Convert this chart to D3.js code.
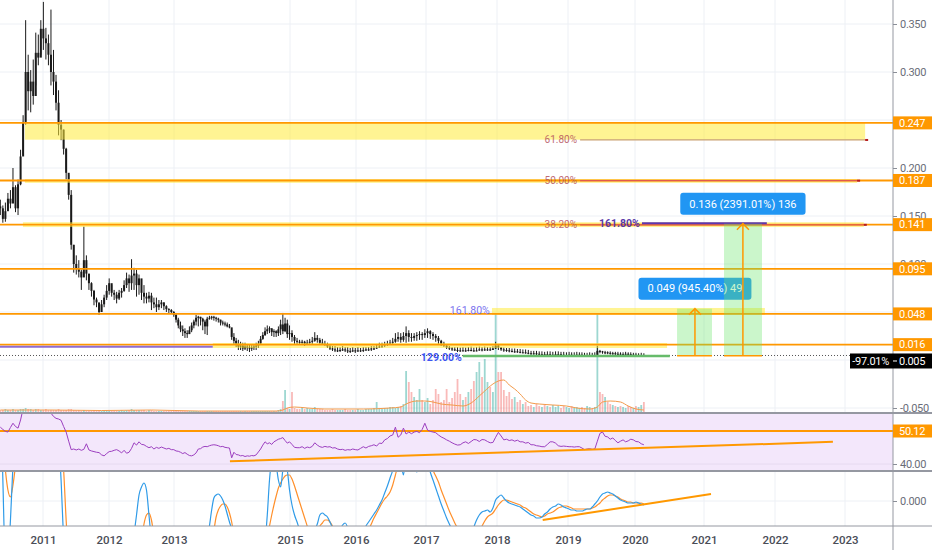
<!DOCTYPE html>
<html>
<head>
<meta charset="utf-8">
<script src="https://cdn.jsdelivr.net/npm/d3@7/dist/d3.min.js"></script>
<style>
  body { margin: 0; background: #fff; }
  svg { display: block; }
  text { font-family: Roboto, "Open Sans", sans-serif; }
</style>
</head>
<body>
<script>
// ---------------- data ----------------
// two-week bars starting from barStart
const barStart = "2010-05-10";
const barDays = 14;

const priceHigh = [
  .167,.161,.164,.174,.177,.200,.182,.188,.219,.255,
  .354,.318,.302,.313,.341,.339,.354,.373,.346,.339,
  .365,.323,.297,.281,.250,.240,.221,.193,.177,.120,
  .109,.104,.094,.139,.109,.089,.081,.073,.065,.059,
  .0625,.068,.078,.085,.078,.073,.071,.073,.075,.083,
  .091,.089,.105,.096,.094,.089,.083,.078,.070,.071,
  .070,.065,.065,.0625,.0625,.060,.057,.054,.053,.051,
  .049,.044,.040,.036,.033,.031,.035,.039,.042,.047,
  .046,.045,.044,.042,.045,.046,.046,.046,.045,.044,
  .042,.041,.040,.039,.0375,.031,.028,.023,.021,.019,
  .018,.018,.0167,.0156,.0156,.0167,.018,.020,.025,.029,
  .034,.036,.035,.033,.032,.031,.035,.042,.049,.044,
  .042,.036,.031,.026,.023,.021,.021,.020,.021,.022,
  .024,.029,.026,.023,.022,.020,.018,.0156,.0146,.0146,
  .0135,.0135,.0146,.0135,.0135,.0125,.0135,.0125,.0135,.0125,
  .0135,.0135,.0135,.0146,.0146,.0167,.018,.018,.019,.020,
  .021,.023,.028,.029,.028,.029,.035,.031,.028,.028,
  .029,.030,.029,.032,.033,.031,.029,.027,.025,.021,
  .019,.0167,.0146,.0135,.0135,.0135,.013,.0135,.013,.0135,
  .014,.013,.0135,.014,.0135,.014,.0135,.0135,.0145,.019,
  .0167,.0135,.013,.0125,.0125,.012,.012,.0115,.0115,.011,
  .011,.0105,.0095,.0095,.0095,.009,.009,.0085,.009,.009,
  .0085,.009,.009,.0085,.0085,.008,.0085,.008,.008,.0085,
  .008,.008,.0075,.0075,.008,.0075,.008,.0146,.0105,.0095,
  .0095,.009,.009,.0085,.0085,.0085,.008,.008,.0085,.008,
  .008,.0075,.0075,.007,.0075,.007
];
const priceLow = [
  .151,.143,.144,.156,.158,.172,.154,.151,.182,.214,
  .245,.260,.258,.266,.286,.307,.318,.323,.313,.307,
  .286,.276,.260,.234,.229,.214,.188,.167,.115,.091,
  .089,.086,.073,.094,.083,.073,.066,.057,.055,.047,
  .050,.055,.0625,.068,.066,.0625,.059,.0625,.065,.071,
  .075,.071,.073,.073,.066,.068,.0625,.059,.059,.060,
  .052,.054,.050,.052,.054,.052,.050,.049,.048,.045,
  .039,.033,.029,.025,.023,.023,.027,.029,.033,.036,
  .035,.036,.031,.027,.026,.042,.042,.041,.040,.039,
  .036,.036,.035,.034,.033,.021,.016,.0135,.0104,.0104,
  .0094,.0104,.0094,.0083,.0094,.0104,.0104,.0125,.0167,.021,
  .025,.027,.028,.025,.024,.024,.025,.026,.027,.029,
  .023,.021,.019,.016,.016,.016,.016,.0146,.016,.016,
  .0167,.019,.018,.016,.016,.0146,.0125,.0104,.0094,.0083,
  .0083,.0083,.0094,.0083,.0073,.0073,.0083,.0073,.0083,.0083,
  .0083,.0094,.0094,.0094,.0104,.0115,.0125,.0125,.0135,.0146,
  .0156,.0156,.018,.019,.018,.019,.018,.019,.019,.020,
  .020,.021,.021,.023,.023,.022,.021,.019,.0167,.0146,
  .0135,.0115,.0104,.0094,.0094,.0083,.0085,.009,.0085,.009,
  .009,.0085,.009,.0095,.009,.0095,.0095,.0095,.0105,.0115,
  .0104,.0095,.0085,.0085,.008,.008,.0075,.0075,.007,.007,
  .0065,.006,.0055,.0055,.005,.005,.0045,.0045,.005,.0045,
  .0045,.005,.005,.0045,.004,.004,.0045,.004,.004,.0045,
  .0045,.004,.004,.0035,.004,.0035,.004,.0063,.007,.0065,
  .006,.006,.0055,.0055,.005,.005,.005,.0045,.005,.0045,
  .0045,.0045,.004,.004,.004,.004
];
const priceClose = [
  .158,.147,.155,.168,.163,.180,.158,.183,.212,.248,
  .300,.280,.290,.275,.320,.315,.345,.335,.330,.318,
  .300,.290,.268,.245,.240,.220,.195,.172,.120,.100,
  .095,.092,.086,.104,.090,.080,.072,.063,.060,.050,
  .058,.065,.072,.080,.070,.068,.064,.070,.072,.078,
  .085,.080,.088,.090,.078,.085,.070,.066,.064,.067,
  .060,.058,.055,.058,.060,.056,.053,.052,.050,.047,
  .042,.036,.032,.030,.028,.027,.031,.036,.040,.044,
  .045,.043,.040,.035,.043,.044,.045,.044,.043,.042,
  .039,.038,.037,.035,.034,.024,.020,.017,.014,.015,
  .012,.014,.013,.012,.013,.014,.015,.017,.022,.026,
  .030,.032,.033,.029,.030,.028,.032,.037,.030,.038,
  .027,.028,.024,.020,.019,.018,.019,.017,.018,.019,
  .020,.023,.021,.018,.017,.016,.014,.012,.011,.010,
  .010,.0105,.011,.010,.0095,.009,.010,.0095,.010,.010,
  .0105,.011,.011,.012,.012,.013,.014,.015,.016,.017,
  .018,.019,.022,.024,.021,.025,.028,.024,.023,.025,
  .026,.027,.026,.028,.030,.027,.025,.023,.020,.017,
  .015,.013,.012,.011,.0105,.010,.0095,.010,.0095,.0105,
  .010,.0095,.010,.011,.0105,.011,.011,.0105,.012,.015,
  .013,.011,.0105,.010,.0095,.009,.009,.0085,.008,.008,
  .0075,.007,.0065,.007,.0065,.006,.006,.0055,.006,.0055,
  .0055,.006,.006,.0055,.005,.005,.0055,.005,.005,.0055,
  .0055,.005,.0045,.0045,.005,.0045,.005,.0095,.009,.008,
  .008,.0075,.007,.007,.0065,.0065,.006,.006,.0065,.006,
  .0055,.0055,.005,.005,.005,.0047
];
const firstOpen = .160;

const volume = [
  2,2,3,2,2,3,2,2,3,3, 4,3,3,2,3,3,2,2,3,2, 2,2,2,3,2,2,2,3,3,2,
  2,2,1,2,1,1,1,2,1,1, 1,1,2,1,1,1,1,1,2,1, 2,2,3,2,2,2,2,2,1,2,
  2,1,1,1,1,1,1,1,1,1, 1,1,1,1,1,1,1,1,1,1, 1,1,1,1,1,1,1,1,1,1,
  1,1,1,1,1,1,1,1,1,1, 1,1,1,1,1,1,1,1,1,1, 1,1,1,1,1,1,2,3,11,22,
  4,3,20,4,3,3,4,3,4,3, 3,5,3,3,3,2,2,2,3,2, 2,2,2,3,2,2,2,2,3,2,
  2,3,3,3,4,10,4,3,4,4, 5,5,4,5,6,8,41,30,20,15, 12,23,12,10,14,8,12,23,18,10,
  12,23,10,14,20,33,18,12,15,20, 23,31,40,50,35,53,30,25,20,98,
  40,40,22,16,20,13,15,10,12,8, 10,6,7,5,8,6,5,7,6,5, 7,5,6,4,6,5,4,6,4,5,
  4,5,4,6,5,4,5,98,20,18, 15,10,8,7,6,5,6,5,4,6, 5,4,6,5,7,10
];
// [bar, value]
const volumeMA = [
  [0,2],[20,2],[40,1.5],[60,2],[80,1],[100,1],[115,1],[118,2],[120,4],[123,5],[128,4],
  [135,3],[150,3],[160,4],[164,5],[166,8],[170,11],[173,11],[176,10],[179,8],[183,7],
  [187,6],[190,9],[193,16],[195,21],[198,28],[200,31],[202,32],[204,27],[206,23],
  [208,18],[210,12],[212,9],[215,8],[220,7],[225,6],[229,4],[234,3],[237,5],[239,10],
  [242,11],[246,10],[249,6],[252,3],[255,2]
];

const rsi = [
  [0,51.3],[1,50.6],[2,50.0],[3,49.8],[4,51.2],[5,52.5],[6,51.5],[7,51.0],[8,53.5],[9,57.0],
  [10,66],[12,70],[14,74],[16,76],[18,72],[19,64],[20,55.6],[21,54.6],[22,54.0],[23,53.8],
  [24,53.4],[25,51.5],[26,49.8],[27,47.0],[28,44.4],[29,44.6],[30,44.3],[31,44.6],[32,44.2],
  [33,44.5],[34,46.2],[35,44.3],[36,44.0],[37,43.8],[38,43.6],[39,43.5],[40,42.8],[41,42.5],
  [42,43.2],[43,43.8],[44,43.9],[45,44.2],[46,44.4],[47,44.0],[48,43.4],[49,44.2],[50,43.3],
  [51,43.6],[52,44.8],[53,46.5],[54,45.8],[55,46.8],[56,46.0],[57,45.9],[58,45.4],[59,45.0],
  [60,45.3],[61,44.6],[62,45.1],[63,44.8],[64,45.2],[65,44.9],[66,44.6],[67,44.8],[68,44.4],
  [69,44.4],[70,44.0],[71,43.9],[72,43.6],[73,43.2],[74,43.5],[75,43.0],[76,42.6],[77,42.5],
  [78,42.8],[79,43.4],[80,44.6],[81,44.7],[82,45.2],[83,45.4],[84,45.3],[85,45.6],[86,45.8],
  [87,45.9],[88,45.8],[89,45.6],[90,45.3],[91,45.4],[92,45.1],[93,45.0],[94,44.9],[95,41.9],
  [96,43.6],[97,42.9],[98,42.8],[99,42.5],[100,42.6],[101,42.3],[102,42.5],[103,42.4],
  [104,42.6],[105,42.5],[106,42.8],[107,43.7],[108,44.6],[109,45.8],[110,46.8],[111,46.2],
  [112,46.5],[113,46.0],[114,46.8],[115,47.2],[116,47.6],[117,47.8],[118,48.1],[119,47.2],
  [120,46.4],[121,46.8],[122,46.0],[123,45.1],[124,45.0],[125,45.0],[126,45.3],[127,44.8],
  [128,45.2],[129,45.0],[130,45.4],[131,46.5],[132,45.8],[133,45.3],[134,45.1],[135,45.4],
  [136,45.2],[137,45.3],[138,44.9],[139,45.0],[140,44.6],[141,44.4],[142,44.5],[143,44.2],
  [144,44.4],[145,44.3],[146,44.6],[147,44.4],[148,44.3],[149,44.8],[150,45.3],[151,44.9],
  [152,45.4],[153,45.6],[154,45.9],[155,45.5],[156,46.4],[157,46.3],[158,47.4],[159,47.8],
  [160,48.6],[161,48.9],[162,51.3],[163,48.2],[164,48.9],[165,51.0],[166,49.2],[167,49.8],
  [168,49.3],[169,49.8],[170,50.0],[171,49.6],[172,50.6],[173,52.5],[174,50.4],[175,50.0],
  [176,49.8],[177,49.6],[178,48.9],[179,48.3],[180,47.9],[181,47.4],[182,47.0],[183,46.5],
  [184,46.1],[185,45.8],[186,45.9],[187,46.5],[188,46.8],[189,46.3],[190,46.9],[191,47.5],
  [192,47.4],[193,46.9],[194,47.5],[195,47.4],[196,46.9],[197,46.5],[198,46.6],[199,48.2],
  [200,49.7],[201,48.6],[202,47.4],[203,47.6],[204,47.2],[205,47.4],[206,47.0],[207,47.3],
  [208,46.8],[209,46.8],[210,46.4],[211,46.6],[212,45.9],[213,45.9],[214,45.6],[215,45.5],
  [216,45.3],[217,45.3],[218,46.0],[219,46.8],[220,46.8],[221,46.4],[222,45.6],[223,45.4],
  [224,45.5],[225,45.4],[226,45.3],[227,45.3],[228,45.2],[229,45.3],[230,45.3],[231,44.9],
  [232,44.4],[233,44.6],[234,44.7],[235,44.5],[236,44.6],[237,47.0],[238,49.4],[239,49.8],
  [240,48.5],[241,48.3],[242,47.6],[243,48.0],[244,47.2],[245,46.5],[246,47.0],[247,47.4],
  [248,46.8],[249,47.1],[250,47.6],[251,47.4],[252,46.9],[253,46.8],[254,46.2],[255,45.9]
];
const rsiLevel = 50.12;

const macd = [
  [0,.0121],[1,.0021],[2,-.0059],[3,-.0059],[4,-.0019],[5,.0036],[6,.0081],[8,.0151],[12,.0171],
  [16,.0161],[20,.0141],[22,.0101],[23,.0061],[24,.0021],[25,-.0039],[27,-.0099],[35,-.0149],
  [45,-.0099],[50,-.0069],[52,-.0059],[53,-.0034],[54,-.0014],[55,.0006],[56,.0014],[57,.0018],
  [58,.0011],[59,-.0014],[60,-.0039],[62,-.0059],[70,-.0079],[80,-.0059],[84,-.0039],[85,-.0025],
  [86,-.0009],[87,.0003],[88,.0006],[89,.0007],[90,.0005],[91,.0001],[92,-.0005],[93,-.0013],
  [94,-.0021],[95,-.0029],[96,-.0049],[98,-.0069],[104,-.0059],[108,-.0049],[110,-.0039],
  [111,-.0014],[112,.0021],[113,.0041],[114,.0046],[115,.0036],[116,.0021],[117,.0014],[118,.0031],
  [119,.0041],[120,.0031],[121,.0011],[122,-.0004],[123,-.0014],[124,-.0021],[125,-.0029],
  [127,-.0044],[129,-.0039],[131,-.0029],[132,-.0023],[133,-.0014],[134,-.0012],[135,-.0014],
  [136,-.0016],[137,-.0021],[138,-.0027],[139,-.0034],[140,-.0035],[141,-.0029],[142,-.0024],
  [143,-.0022],[144,-.0027],[145,-.0039],[147,-.0044],[150,-.0031],[151,-.0025],[152,-.0021],
  [153,-.0017],[154,-.0013],[155,-.0009],[156,-.0004],[157,.0001],[158,.0008],[159,.0015],
  [160,.0023],[161,.0031],[162,.0046],[163,.0051],[164,.0041],[165,.0026],[166,.0046],[168,.0051],
  [170,.0029],[171,.0041],[173,.0051],[174,.0041],[175,.0029],[176,.0021],[177,.0013],[178,.0005],
  [179,-.0003],[180,-.0010],[181,-.0017],[182,-.0023],[183,-.0029],[185,-.0039],[188,-.0039],
  [190,-.0034],[191,-.0026],[192,-.0019],[193,-.0014],[194,-.0011],[195,-.0010],[196,-.0009],
  [197,-.0011],[198,-.0007],[199,.0001],[200,.0004],[201,.0006],[202,.0003],[203,.0000],
  [204,-.0002],[205,-.0003],[206,-.0004],[207,-.0005],[208,-.0006],[209,-.0008],[210,-.0010],
  [211,-.0012],[212,-.0014],[213,-.0015],[214,-.0017],[215,-.0017],[216,-.0016],[217,-.0013],
  [218,-.0011],[219,-.0008],[220,-.0006],[221,-.0005],[222,-.0003],[223,-.0004],[224,-.0006],
  [225,-.0007],[226,-.0008],[227,-.0009],[228,-.0009],[229,-.0010],[230,-.0010],[231,-.0010],
  [232,-.0009],[233,-.0008],[234,-.0008],[235,-.0006],[236,-.0003],[237,.0000],[238,.0004],
  [239,.0007],[240,.0008],[241,.0009],[242,.0008],[243,.0007],[244,.0005],[245,.0003],[246,.0001],
  [247,.0000],[248,-.0001],[249,-.0002],[250,-.0002],[251,-.0002],[252,-.0001],[253,-.0002],
  [254,-.0003],[255,-.0004]
];
const macdSignal = [
  [0,.0081],[1,.0061],[2,.0031],[3,.0011],[4,.0004],[5,.0016],[6,.0036],[7,.0061],[10,.0121],
  [16,.0151],[22,.0111],[24,.0061],[25,.0031],[26,-.0019],[27,-.0059],[35,-.0119],[50,-.0079],
  [55,-.0049],[56,-.0039],[57,-.0023],[58,-.0014],[59,-.0012],[60,-.0019],[61,-.0034],[63,-.0049],
  [75,-.0069],[85,-.0044],[86,-.0037],[87,-.0029],[88,-.0016],[89,-.0009],[90,-.0005],[91,-.0003],
  [92,-.0003],[93,-.0006],[94,-.0012],[95,-.0021],[96,-.0034],[98,-.0049],[105,-.0059],
  [110,-.0044],[112,-.0025],[113,-.0014],[114,-.0004],[115,.0005],[116,.0013],[117,.0018],
  [118,.0022],[119,.0025],[120,.0026],[121,.0026],[122,.0022],[123,.0015],[124,.0007],[125,-.0001],
  [126,-.0009],[127,-.0017],[128,-.0025],[129,-.0034],[131,-.0036],[132,-.0029],[133,-.0025],
  [134,-.0022],[135,-.0019],[136,-.0019],[137,-.0021],[138,-.0025],[139,-.0029],[141,-.0033],
  [145,-.0034],[150,-.0034],[152,-.0029],[153,-.0023],[154,-.0017],[155,-.0012],[156,-.0007],
  [157,-.0002],[158,.0002],[159,.0005],[160,.0009],[161,.0016],[162,.0026],[163,.0036],[165,.0046],
  [170,.0051],[175,.0041],[176,.0031],[177,.0025],[178,.0019],[179,.0011],[180,.0004],[181,-.0003],
  [182,-.0010],[183,-.0016],[184,-.0022],[185,-.0027],[186,-.0032],[189,-.0036],[192,-.0033],
  [193,-.0029],[194,-.0025],[195,-.0020],[196,-.0016],[197,-.0014],[198,-.0012],[199,-.0008],
  [200,-.0004],[201,-.0001],[202,.0001],[203,.0001],[204,.0000],[205,-.0001],[206,-.0002],
  [207,-.0003],[208,-.0004],[209,-.0006],[210,-.0007],[211,-.0009],[212,-.0011],[213,-.0013],
  [214,-.0014],[215,-.0015],[216,-.0016],[217,-.0015],[218,-.0013],[219,-.0012],[220,-.0011],
  [221,-.0009],[222,-.0007],[223,-.0006],[224,-.0005],[225,-.0005],[226,-.0006],[227,-.0007],
  [228,-.0008],[229,-.0008],[234,-.0008],[235,-.0007],[236,-.0006],[237,-.0004],[238,-.0002],
  [239,.0001],[240,.0003],[241,.0005],[242,.0006],[243,.0006],[244,.0005],[245,.0004],[246,.0002],
  [247,.0001],[248,.0000],[249,-.0001],[250,-.0001],[251,-.0002],[254,-.0002],[255,-.0003]
];

// axes
const yearTicks = ["2011","2012","2013","2015","2016","2017","2018","2019","2020","2021","2022","2023"];
const priceTicks = [-0.05, 0, 0.05, 0.1, 0.15, 0.2, 0.25, 0.3, 0.35];
const priceTickLabels = [-0.05, 0.1, 0.15, 0.2, 0.3, 0.35]; // the others sit under level labels
const rsiTicks = [40, 50];
const rsiTickLabels = [40];
const macdTicks = [0];

// horizontal support / resistance levels
const levelValues = [0.247, 0.187, 0.141, 0.095, 0.048, 0.016];
const lastPrice = 0.0047;
const lastPriceLabel = "0.005";
const lastChangeLabel = "-97.01%";

// highlighted (yellow) bands
const bandFrom = ["2010-09-23", "2010-09-23", "2010-09-12", "2017-12-06", "2013-09-02"];
const bandTo   = ["2023-04-16", "2023-03-05", "2023-04-09", "2021-11-10", "2020-06-19"];
const bandHigh = [0.247, 0.1885, 0.1435, 0.0542, 0.0177];
const bandLow  = [0.2295, 0.1845, 0.1385, 0.0469, 0.0125];

// fib retracement levels
const fibLabels = ["61.80%", "50.00%", "38.20%"];
const fibValues = [0.2292, 0.1868, 0.1408];
const fibFrom = "2019-03-08";
const fibTo = ["2023-04-16", "2023-03-05", "2023-04-09"];
const fibLabelAt = "2019-02-19";

// fib extension labels
const extLabels = ["161.80%", "161.80%", "129.00%"];
const extValues = [0.0515, 0.1420, 0.0030];
const extLabelAt = ["2017-11-25", "2020-01-27", "2017-07-04"];

// trend / extension lines
const purpleFrom = ["2010-04-20", "2020-02-07"];
const purpleTo = ["2013-09-02", "2021-11-20"];
const purpleValues = [0.0138, 0.1424];
const greenFrom = "2017-07-09", greenTo = "2020-07-04", greenValue = 0.0042;
const rsiTrendDates = ["2013-12-19", "2022-10-30"], rsiTrendValues = [40.82, 46.79];
const macdTrendDates = ["2018-08-24", "2021-02-06"], macdTrendValues = [-0.0019, 0.0007];

// price range projections
const rangeFrom = ["2020-08-11", "2021-04-14"];
const rangeTo = ["2021-02-11", "2021-10-26"];
const rangeMid = ["2020-11-14", "2021-07-20"];
const rangeLow = [0.0045, 0.0045];
const rangeHigh = [0.0535, 0.1420];
const rangeLabels = ["0.049 (945.40%) 49", "0.136 (2391.01%) 136"];

// ---------------- layout ----------------
const width = 932, height = 550;
const axisX = 893;
const pricePane = [0, 413], rsiPane = [413, 471], macdPane = [471, 526];
const yearTickX = [43, 109, 174, 290, 356, 426, 497, 568, 635, 704, 775, 845];
const orange = "#ff9800";

const svg = d3.select("body").append("svg").attr("width", width).attr("height", height);
svg.append("rect").attr("width", width).attr("height", height).attr("fill", "#fff");

const parseDate = d3.timeParse("%Y-%m-%d");
const yearDates = yearTicks.map(y => parseDate(y + "-01-01"));
const x = d3.scaleTime().domain(yearDates).range(yearTickX);
const xd = s => x(parseDate(s));
const barX = i => x(d3.timeDay.offset(parseDate(barStart), i * barDays));
const openOf = i => i === 0 ? firstOpen : priceClose[i - 1];

const yPrice = d3.scaleLinear().domain([-0.05, 0.35]).range([408, 24]);
const yVol = d3.scaleLinear().domain([0, 100]).range([412, 312]);
const yRsi = d3.scaleLinear().domain([40, rsiLevel]).range([464, 431]);
const yMacd = d3.scaleLinear().domain([-0.0025, 0.0029]).range([526, 472]);

const defs = svg.append("defs");
[["clip-price", pricePane], ["clip-rsi", rsiPane], ["clip-macd", macdPane]].forEach(([id, p]) => {
  defs.append("clipPath").attr("id", id).append("rect")
    .attr("x", 0).attr("y", p[0] + 1).attr("width", axisX).attr("height", p[1] - p[0] - 1);
});

// grid
const grid = svg.append("g").attr("stroke", "#edf0f5").attr("stroke-width", 1);
grid.selectAll("line.gv").data(yearDates).join("line").attr("class", "gv")
  .attr("x1", d => x(d)).attr("x2", d => x(d)).attr("y1", 0).attr("y2", macdPane[1]);
grid.selectAll("line.gh").data(priceTicks).join("line").attr("class", "gh")
  .attr("x1", 0).attr("x2", axisX).attr("y1", d => yPrice(d)).attr("y2", d => yPrice(d));

// RSI background
svg.append("rect").attr("x", 0).attr("y", rsiPane[0]).attr("width", axisX)
  .attr("height", rsiPane[1] - rsiPane[0]).attr("fill", "#f3e7fb");
svg.append("g").attr("stroke", "#e6daf0").selectAll("line").data(rsiTicks).join("line")
  .attr("x1", 0).attr("x2", axisX).attr("y1", d => yRsi(d)).attr("y2", d => yRsi(d));
grid.selectAll("line.gm").data(macdTicks).join("line").attr("class", "gm")
  .attr("x1", 0).attr("x2", axisX).attr("y1", d => yMacd(d)).attr("y2", d => yMacd(d));

// ---------------- price pane ----------------
const pg = svg.append("g").attr("clip-path", "url(#clip-price)");

// volume
pg.append("g").selectAll("rect").data(volume).join("rect")
  .attr("x", (d, i) => barX(i) - 0.9).attr("width", 1.8)
  .attr("y", d => yVol(d)).attr("height", d => yVol(0) - yVol(d))
  .attr("fill", (d, i) => priceClose[i] >= openOf(i) ? "rgba(38,166,154,0.45)" : "rgba(239,83,80,0.4)");
pg.append("path").datum(volumeMA)
  .attr("d", d3.line().x(d => barX(d[0])).y(d => yVol(d[1])).curve(d3.curveMonotoneX))
  .attr("fill", "none").attr("stroke", "#f39a4a").attr("stroke-width", 1);

// candles
const cg = pg.append("g");
cg.selectAll("line").data(priceClose).join("line")
  .attr("x1", (d, i) => barX(i)).attr("x2", (d, i) => barX(i))
  .attr("y1", (d, i) => yPrice(priceHigh[i])).attr("y2", (d, i) => yPrice(priceLow[i]))
  .attr("stroke", "#1a1a1a").attr("stroke-width", 1);
cg.selectAll("rect").data(priceClose).join("rect")
  .attr("x", (d, i) => barX(i) - 1).attr("width", 2)
  .attr("y", (d, i) => yPrice(Math.max(openOf(i), d)))
  .attr("height", (d, i) => Math.max(1, Math.abs(yPrice(openOf(i)) - yPrice(d))))
  .attr("fill", "#1a1a1a");

// last price dotted line
pg.append("line").attr("x1", 0).attr("x2", axisX)
  .attr("y1", yPrice(lastPrice)).attr("y2", yPrice(lastPrice))
  .attr("stroke", "#555").attr("stroke-width", 1).attr("stroke-dasharray", "1,2");

// yellow bands
pg.append("g").selectAll("rect").data(bandHigh).join("rect")
  .attr("x", (d, i) => xd(bandFrom[i])).attr("width", (d, i) => xd(bandTo[i]) - xd(bandFrom[i]))
  .attr("y", d => yPrice(d)).attr("height", (d, i) => yPrice(bandLow[i]) - yPrice(d))
  .attr("fill", "rgba(255,235,59,0.55)");

// orange horizontal levels
pg.append("g").selectAll("line").data(levelValues).join("line")
  .attr("x1", 0).attr("x2", axisX).attr("y1", d => yPrice(d)).attr("y2", d => yPrice(d))
  .attr("stroke", orange).attr("stroke-width", 1.8);

// fib levels
const fibColors = ["#c9a070", "#e0584f", "#e0584f"];
pg.append("g").selectAll("line").data(fibValues).join("line")
  .attr("x1", xd(fibFrom)).attr("x2", (d, i) => xd(fibTo[i]))
  .attr("y1", d => yPrice(d)).attr("y2", d => yPrice(d))
  .attr("stroke", (d, i) => fibColors[i]).attr("stroke-width", 1.2);
pg.append("g").selectAll("text").data(fibLabels).join("text")
  .attr("x", xd(fibLabelAt)).attr("y", (d, i) => yPrice(fibValues[i]))
  .attr("dy", "0.35em").attr("text-anchor", "end")
  .attr("font-size", 10).attr("fill", "#b5525e").attr("opacity", 0.85).text(d => d);
pg.append("g").selectAll("rect").data(fibValues).join("rect")
  .attr("x", (d, i) => xd(fibTo[i])).attr("width", 3)
  .attr("y", d => yPrice(d) - 1).attr("height", 2).attr("fill", "#b71c1c");

// purple and green lines
pg.append("g").selectAll("line").data(purpleValues).join("line")
  .attr("x1", (d, i) => xd(purpleFrom[i])).attr("x2", (d, i) => xd(purpleTo[i]))
  .attr("y1", d => yPrice(d)).attr("y2", d => yPrice(d))
  .attr("stroke", (d, i) => i === 0 ? "#8e6bd0" : "#5e35b1").attr("stroke-width", 2);
pg.append("line").attr("x1", xd(greenFrom)).attr("x2", xd(greenTo))
  .attr("y1", yPrice(greenValue)).attr("y2", yPrice(greenValue))
  .attr("stroke", "#66bb6a").attr("stroke-width", 2.5);

const extColors = ["#7b72ee", "#5a3aa8", "#3d55f0"];
pg.append("g").selectAll("text").data(extLabels).join("text")
  .attr("x", (d, i) => xd(extLabelAt[i])).attr("y", (d, i) => yPrice(extValues[i]))
  .attr("dy", "0.35em").attr("text-anchor", "end").attr("font-size", 10.5)
  .attr("font-weight", (d, i) => i === 0 ? 400 : 700)
  .attr("fill", (d, i) => extColors[i]).text(d => d);

// price range projections
const rg = pg.append("g");
rangeLabels.forEach((label, i) => {
  const x0 = xd(rangeFrom[i]), x1 = xd(rangeTo[i]), xm = xd(rangeMid[i]);
  const yT = yPrice(rangeHigh[i]), yB = yPrice(rangeLow[i]);
  rg.append("rect").attr("x", x0).attr("y", yT).attr("width", x1 - x0).attr("height", yB - yT)
    .attr("fill", "rgba(105,230,105,0.35)");
  rg.append("line").attr("x1", x0).attr("x2", x1).attr("y1", yB).attr("y2", yB)
    .attr("stroke", orange).attr("stroke-width", 1.5);
  rg.append("line").attr("x1", xm).attr("x2", xm).attr("y1", yB).attr("y2", yT + 1)
    .attr("stroke", orange).attr("stroke-width", 1.5);
  rg.append("path").attr("d", `M${xm - 6},${yT + 6}L${xm},${yT}L${xm + 6},${yT + 6}`)
    .attr("fill", "none").attr("stroke", orange).attr("stroke-width", 1.5);
  const lg = rg.append("g");
  const box = lg.append("rect").attr("rx", 3).attr("fill", "#2196f3");
  const t = lg.append("text").attr("x", xm).attr("y", yT - 20).attr("dy", "0.35em")
    .attr("text-anchor", "middle").attr("font-size", 11).attr("fill", "#fff").text(label);
  const w = t.node().getComputedTextLength() + 18;
  box.attr("x", xm - w / 2).attr("width", w).attr("y", yT - 31).attr("height", 22);
});

// ---------------- RSI pane ----------------
const rg2 = svg.append("g").attr("clip-path", "url(#clip-rsi)");
rg2.append("line").attr("x1", 0).attr("x2", axisX)
  .attr("y1", yRsi(rsiLevel)).attr("y2", yRsi(rsiLevel))
  .attr("stroke", orange).attr("stroke-width", 1.8);
rg2.append("path").datum(rsi)
  .attr("d", d3.line().x(d => barX(d[0])).y(d => yRsi(d[1])))
  .attr("fill", "none").attr("stroke", "#9c3fc0").attr("stroke-width", 1);
rg2.append("line")
  .attr("x1", xd(rsiTrendDates[0])).attr("x2", xd(rsiTrendDates[1]))
  .attr("y1", yRsi(rsiTrendValues[0])).attr("y2", yRsi(rsiTrendValues[1]))
  .attr("stroke", orange).attr("stroke-width", 2);

// ---------------- MACD pane ----------------
const mg = svg.append("g").attr("clip-path", "url(#clip-macd)");
mg.append("path").datum(macdSignal)
  .attr("d", d3.line().x(d => barX(d[0])).y(d => yMacd(d[1])).curve(d3.curveMonotoneX))
  .attr("fill", "none").attr("stroke", "#ff8f2a").attr("stroke-width", 1.2);
mg.append("path").datum(macd)
  .attr("d", d3.line().x(d => barX(d[0])).y(d => yMacd(d[1])).curve(d3.curveMonotoneX))
  .attr("fill", "none").attr("stroke", "#2f9be8").attr("stroke-width", 1.2);
mg.append("line")
  .attr("x1", xd(macdTrendDates[0])).attr("x2", xd(macdTrendDates[1]))
  .attr("y1", yMacd(macdTrendValues[0])).attr("y2", yMacd(macdTrendValues[1]))
  .attr("stroke", orange).attr("stroke-width", 2);

// ---------------- frames & axes ----------------
const frame = svg.append("g").attr("stroke", "#9598a1");
frame.append("line").attr("x1", 0).attr("x2", width).attr("y1", rsiPane[0]).attr("y2", rsiPane[0]).attr("stroke-width", 1.8);
frame.append("line").attr("x1", 0).attr("x2", width).attr("y1", macdPane[0]).attr("y2", macdPane[0]).attr("stroke-width", 1.8);
frame.append("line").attr("x1", 0).attr("x2", width).attr("y1", macdPane[1]).attr("y2", macdPane[1]).attr("stroke-width", 1);
frame.append("line").attr("x1", axisX).attr("x2", axisX).attr("y1", 0).attr("y2", height).attr("stroke-width", 1);

function styleAxis(g) {
  g.select(".domain").remove();
  g.selectAll(".tick line").attr("stroke", "#8a8e97");
  g.selectAll(".tick text").attr("fill", "#6a6d78").attr("font-size", 11)
    .attr("font-family", "Roboto, sans-serif").attr("letter-spacing", "-0.3px");
}
svg.append("g").attr("transform", `translate(${axisX},0)`)
  .call(d3.axisRight(yPrice).tickValues(priceTickLabels).tickSize(4).tickPadding(3).tickFormat(d => d.toFixed(3)))
  .call(styleAxis);
svg.append("g").attr("transform", `translate(${axisX},0)`)
  .call(d3.axisRight(yRsi).tickValues(rsiTickLabels).tickSize(4).tickPadding(3).tickFormat(d => d.toFixed(2)))
  .call(styleAxis);
svg.append("g").attr("transform", `translate(${axisX},0)`)
  .call(d3.axisRight(yMacd).tickValues(macdTicks).tickSize(4).tickPadding(3).tickFormat(d => d.toFixed(3)))
  .call(styleAxis);

// orange price labels
function axisLabel(y, text, fill) {
  const g = svg.append("g");
  g.append("rect").attr("x", axisX).attr("y", y - 6.5).attr("width", width - axisX).attr("height", 13).attr("fill", fill);
  g.append("text").attr("x", axisX + 6).attr("y", y).attr("dy", "0.35em")
    .attr("font-size", 11).attr("letter-spacing", "-0.3px").attr("fill", "#fff").text(text);
}
levelValues.forEach(v => axisLabel(yPrice(v), v.toFixed(3), orange));
axisLabel(yRsi(rsiLevel), rsiLevel.toFixed(2), orange);

// last price label
const ly = yPrice(lastPrice) + 5.5;
svg.append("rect").attr("x", 850).attr("y", ly - 7.5).attr("width", width - 850).attr("height", 15).attr("fill", "#000");
svg.append("line").attr("x1", axisX).attr("x2", axisX + 4).attr("y1", ly).attr("y2", ly).attr("stroke", "#fff");
svg.append("text").attr("x", axisX - 4).attr("y", ly).attr("dy", "0.35em").attr("text-anchor", "end")
  .attr("font-size", 11).attr("letter-spacing", "-0.3px").attr("fill", "#fff").text(lastChangeLabel);
svg.append("text").attr("x", axisX + 6).attr("y", ly).attr("dy", "0.35em")
  .attr("font-size", 11).attr("letter-spacing", "-0.3px").attr("fill", "#fff").text(lastPriceLabel);

// time axis
svg.append("g").attr("transform", `translate(0,${macdPane[1]})`)
  .call(d3.axisBottom(x).tickValues(yearDates).tickSize(0).tickPadding(10).tickFormat((d, i) => yearTicks[i]))
  .call(g => g.select(".domain").remove())
  .call(g => g.selectAll(".tick text").attr("fill", "#4a4d57").attr("font-size", 11.5)
    .attr("font-weight", 500).attr("font-family", "Roboto, sans-serif"));
</script>
</body>
</html>
